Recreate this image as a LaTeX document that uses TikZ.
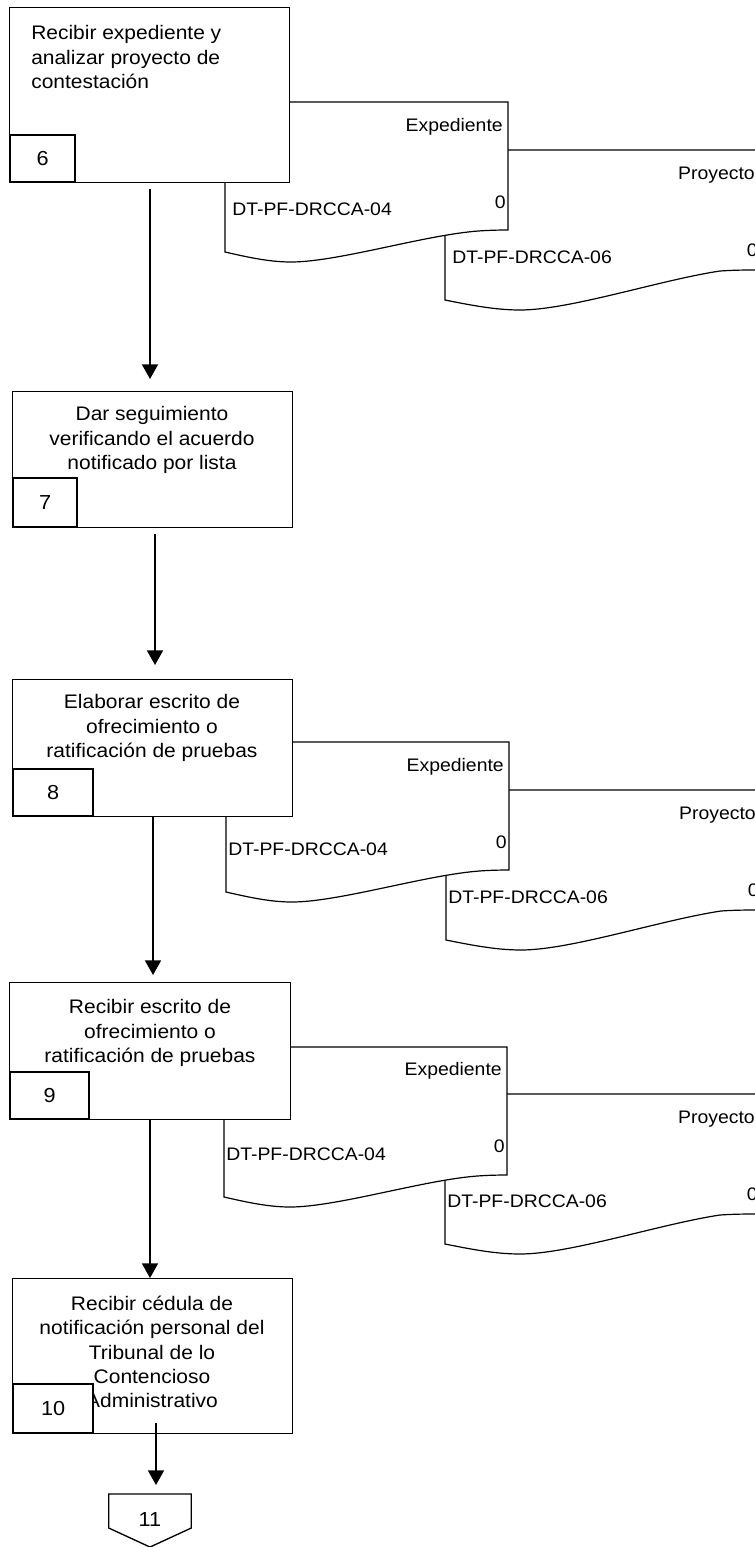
\documentclass[tikz,border=0pt]{standalone}
\usepackage{fontspec}
\setmainfont{Liberation Sans}[FakeStretch=1.07]
\usetikzlibrary{arrows.meta,calc}

% text sizes for activity boxes, step numbers and document labels
\newcommand\acttext{\fontsize{14.7pt}{18.3pt}\selectfont}
\newcommand\numtext{\fontsize{15.2pt}{18pt}\selectfont}
\newcommand\doctext{\fontsize{13.6pt}{15pt}\selectfont}

\tikzset{
  wh/.style 2 args={minimum width=#1*0.75pt, minimum height=#2*0.75pt},
  actbox/.style={draw=black, line width=0.9pt, fill=white, inner sep=0pt, anchor=north west},
  numbox/.style={draw=black, line width=1.6pt, fill=white, inner sep=0pt, anchor=south west, font=\numtext},
  acttxt/.style={font=\acttext, align=center, inner sep=0pt},
  doclab/.style={font=\doctext, inner sep=0pt},
  docshape/.style={draw=black, line width=0.9pt, fill=white},
  flow/.style={line width=1.4pt, -{Triangle[width=12pt,length=11pt]}},
  % document symbol, first copy (Expediente)
  pics/docfront/.style={code={
    \draw[docshape] (0,0) -- (283,0) -- (283,128)
      .. controls (270,128) and (255,128.5) .. (243,130)
      .. controls (190,136) and (110,160) .. (66,160)
      .. controls (44,160) and (22,155) .. (0,150) -- cycle;
  }},
  % document symbol, second copy (Proyecto)
  pics/docback/.style={code={
    \draw[docshape] (0,0) -- (315,0) -- (315,120)
      .. controls (300,120) and (290,120) .. (275,121)
      .. controls (215,130) and (125,160) .. (75,160)
      .. controls (50,160) and (25,155) .. (0,150) -- cycle;
  }},
}

\begin{document}
\begin{tikzpicture}[x=0.75pt,y=-0.75pt]
\useasboundingbox (0,0) rectangle (755,1547);
\clip (0,0) rectangle (755,1547);

% ---------- step 6 with its documents ----------
\pic at (445,150) {docback};
\node[doclab, anchor=base east] (p6) at (755,179) {Proyecto};
\node[doclab, anchor=base east] (p6z) at (758,256) {0};
\node[doclab, anchor=base west] (p6c) at (452,263) {DT-PF-DRCCA-06};
\pic at (225,102) {docfront};
\node[doclab, anchor=base east] (e6) at (503,131) {Expediente};
\node[doclab, anchor=base east] (e6z) at (506,208) {0};
\node[doclab, anchor=base west] (e6c) at (232,215) {DT-PF-DRCCA-04};

\node[actbox, wh={280}{175}] (n6) at (9,7) {};
\node[acttxt, anchor=west, align=left] (t6) at (31,57)
  {Recibir expediente y\\analizar proyecto de\\contestación};
\node[numbox, wh={65}{47}] (k6) at (n6.south west) {6};

% ---------- step 7 ----------
\node[actbox, wh={280}{136}] (n7) at (12,391) {};
\node[acttxt] (t7) at (152,440)
  {Dar seguimiento\\verificando el acuerdo\\notificado por lista};
\node[numbox, wh={64}{49}] (k7) at (n7.south west) {7};

% ---------- step 8 with its documents ----------
\pic at (446,790) {docback};
\node[doclab, anchor=base east] (p8) at (756,819) {Proyecto};
\node[doclab, anchor=base east] (p8z) at (759,896) {0};
\node[doclab, anchor=base west] (p8c) at (448,903) {DT-PF-DRCCA-06};
\pic at (226,742) {docfront};
\node[doclab, anchor=base east] (e8) at (504,771) {Expediente};
\node[doclab, anchor=base east] (e8z) at (507,848) {0};
\node[doclab, anchor=base west] (e8c) at (228,855) {DT-PF-DRCCA-04};

\node[actbox, wh={280}{137}] (n8) at (12,679) {};
\node[acttxt] (t8) at (152,728)
  {Elaborar escrito de\\ofrecimiento o\\ratificación de pruebas};
\node[numbox, wh={80}{47}] (k8) at (n8.south west) {8};

% ---------- step 9 with its documents ----------
\pic at (445,1094) {docback};
\node[doclab, anchor=base east] (p9) at (755,1123) {Proyecto};
\node[doclab, anchor=base east] (p9z) at (758,1200) {0};
\node[doclab, anchor=base west] (p9c) at (447,1207) {DT-PF-DRCCA-06};
\pic at (224,1047) {docfront};
\node[doclab, anchor=base east] (e9) at (502,1075) {Expediente};
\node[doclab, anchor=base east] (e9z) at (505,1152) {0};
\node[doclab, anchor=base west] (e9c) at (226,1160) {DT-PF-DRCCA-04};

\node[actbox, wh={281}{137}] (n9) at (9,982) {};
\node[acttxt] (t9) at (150,1033)
  {Recibir escrito de\\ofrecimiento o\\ratificación de pruebas};
\node[numbox, wh={79}{47}] (k9) at (n9.south west) {9};

% ---------- step 10 ----------
\node[actbox, wh={280}{155}] (n10) at (12,1278) {};
\node[acttxt] (t10) at (152,1352)
  {Recibir cédula de\\notificación personal del\\Tribunal de lo\\Contencioso\\Administrativo};
\node[numbox, wh={80}{49}] (k10) at (n10.south west) {10};

% ---------- off-page connector 11 ----------
\node[inner sep=0pt, wh={82}{50}, anchor=north, font=\numtext] (n11) at (150,1494) {11};
\draw[line width=1pt] (n11.north west) -- (n11.north east)
  -- ($(n11.north east)+(0,34)$) -- ($(n11.south)+(0,2.5)$)
  -- ($(n11.north west)+(0,34)$) -- cycle;

% ---------- flow arrows ----------
\draw[flow, shorten <=4.5pt, shorten >=9pt] (n6.south -| 150,0) -- (n7.north -| 150,0);
\draw[flow, shorten <=4.5pt, shorten >=10.5pt] (n7.south -| 155,0) -- (n8.north -| 155,0);
\draw[flow, shorten >=5.25pt] (n8.south -| 153,0) -- (n9.north -| 153,0);
\draw[flow] (n9.south -| 150,0) -- (n10.north -| 150,0);
\draw[flow, shorten <=-8.25pt, shorten >=6.75pt] (n10.south -| 156,0) -- (n11.north -| 156,0);
\end{tikzpicture}
\end{document}
